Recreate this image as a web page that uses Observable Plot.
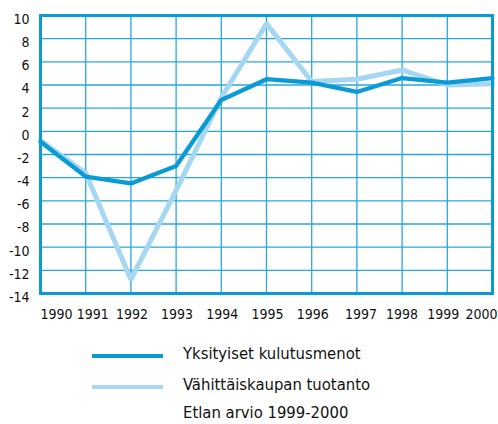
<!DOCTYPE html>
<html><head><meta charset="utf-8">
<script src="https://cdn.jsdelivr.net/npm/d3@7"></script>
<script src="https://cdn.jsdelivr.net/npm/@observablehq/plot@0.6"></script>
<style>
body{margin:0;background:#fff;font-family:"DejaVu Sans Condensed","DejaVu Sans",sans-serif;font-stretch:condensed;}
#legend{position:relative;height:94px;width:498px;font-size:16.5px;color:#111;}
.sw{position:absolute;left:92px;width:71px;}
.lab{position:absolute;left:183px;white-space:nowrap;}
</style></head>
<body>
<div id="chart"></div>
<div id="legend"></div>
<script>
const years = [1990,1991,1992,1993,1994,1995,1996,1997,1998,1999,2000];
const kulutus = [-0.9,-3.9,-4.5,-3.0,2.7,4.5,4.2,3.4,4.6,4.2,4.6];
const vahittais = [-0.8,-3.6,-12.8,-5.1,2.9,9.3,4.3,4.5,5.3,4.0,4.1];
const yTicks = [10,8,6,4,2,0,-2,-4,-6,-8,-10,-12,-14];
const seriesNames = ["Yksityiset kulutusmenot","Vähittäiskaupan tuotanto"];
const note = "Etlan arvio 1999-2000";
const colors = ["#0a9ad6","#a6d7f2"];

const d1 = years.map((y,i)=>({year:y,value:kulutus[i]}));
const d2 = years.map((y,i)=>({year:y,value:vahittais[i]}));
const font = "DejaVu Sans Condensed, DejaVu Sans, sans-serif";

const xLab = (list, anchor, dx) => Plot.text(list,{x:d=>d,y:-14,text:d=>String(d),textAnchor:anchor,dx,dy:21,fontSize:14,fill:"#111"});

const plot = Plot.plot({
  width:498, height:330,
  marginLeft:40, marginRight:6, marginTop:15, marginBottom:37,
  x:{domain:[1990,2000], axis:null},
  y:{domain:[-14,10], axis:null},
  style:{fontFamily:font, background:"#fff"},
  marks:[
    Plot.ruleX(years,{x:d=>d, stroke:"#2aa6de", strokeWidth:1.3}),
    Plot.ruleY(yTicks,{y:d=>d, stroke:"#2aa6de", strokeWidth:1.3}),
    Plot.line(d2,{x:"year",y:"value",stroke:colors[1],strokeWidth:5,strokeLinejoin:"miter"}),
    Plot.line(d1,{x:"year",y:"value",stroke:colors[0],strokeWidth:4.3,strokeLinejoin:"miter"}),
    Plot.frame({stroke:"#0a9ad6", strokeWidth:3}),
    Plot.text(yTicks,{x:1990,y:d=>d,text:d=>String(d),textAnchor:"end",dx:-11,dy:4,fontSize:14,fill:"#111"}),
    xLab(years.slice(0,1),"start",0),
    xLab(years.slice(1,2),"middle",7),
    xLab(years.slice(2,7),"middle",1),
    xLab(years.slice(7,8),"middle",4),
    xLab(years.slice(8,9),"middle",0),
    xLab(years.slice(9,10),"middle",-4),
    xLab(years.slice(-1),"end",5)
  ]
});
document.getElementById("chart").appendChild(plot);

const leg = document.getElementById("legend");
const tops = [26,57,85];
seriesNames.forEach((n,i)=>{
  const sw = document.createElement("div");
  sw.className="sw";
  sw.style.top=(tops[i]-2)+"px";
  sw.style.height="4px";
  sw.style.background=colors[i];
  leg.appendChild(sw);
  const t = document.createElement("div");
  t.className="lab";
  t.style.top=(tops[i]-12)+"px";
  t.textContent=n;
  leg.appendChild(t);
});
const t3 = document.createElement("div");
t3.className="lab";
t3.style.top=(tops[2]-12)+"px";
t3.textContent=note;
leg.appendChild(t3);
</script>
</body></html>
